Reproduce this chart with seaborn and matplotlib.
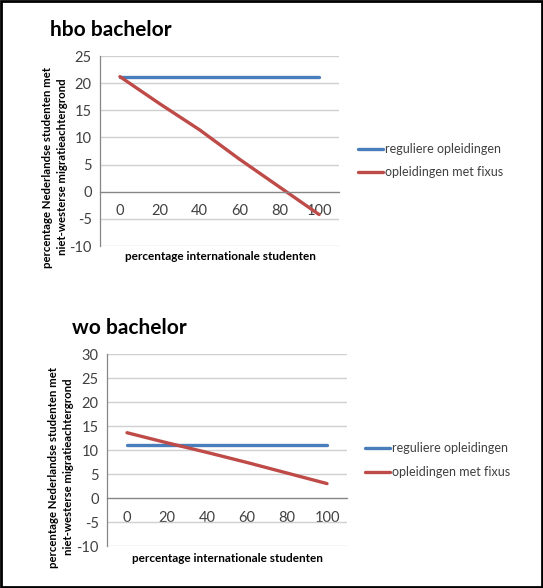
import matplotlib
matplotlib.use("Agg")
import matplotlib.pyplot as plt
import seaborn as sns
import pandas as pd
from matplotlib.patches import Rectangle

# ---- data ----
x_cats = [0, 20, 40, 60, 80, 100]
hbo_regulier = [21.2, 21.2, 21.2, 21.2, 21.2, 21.2]
hbo_fixus = [21.2, 16.2, 11.4, 6.0, 0.9, -4.2]
wo_regulier = [11.0, 11.0, 11.0, 11.0, 11.0, 11.0]
wo_fixus = [13.6, 11.5, 9.5, 7.4, 5.2, 3.0]
series_names = ["reguliere opleidingen", "opleidingen met fixus"]
titles = ["hbo bachelor", "wo bachelor"]
ylabel = "percentage Nederlandse studenten met\nniet-westerse migratieachtergrond"
xlabel = "percentage internationale studenten"

sns.set_theme(style="white")
plt.rcParams['font.family'] = ['Lato', 'DejaVu Sans']

W, H = 543, 588
fig = plt.figure(figsize=(W / 100, H / 100), dpi=100)
fig.patch.set_facecolor("white")

palette = {series_names[0]: "#4a7ebb", series_names[1]: "#be4b48"}


def make_df(reg, fix):
    rows = []
    for name, vals in zip(series_names, [reg, fix]):
        for xv, yv in zip(x_cats, vals):
            rows.append({"x": xv, "y": yv, "serie": name})
    return pd.DataFrame(rows)


def px_axes(l, t, r, b):
    return [l / W, 1 - b / H, (r - l) / W, (b - t) / H]


configs = [
    dict(df=make_df(hbo_regulier, hbo_fixus), rect=(100, 56, 339, 246), ylim=(-10, 25),
         yticks=list(range(-10, 26, 5)), title=titles[0], title_xy=(50, 30),
         ylab_x=(48, 62), ylab_y=167, xlab_xy=(220, 257), leg_y=(149, 172), leg_x=358),
    dict(df=make_df(wo_regulier, wo_fixus), rect=(107, 354, 347, 546), ylim=(-10, 30),
         yticks=list(range(-10, 31, 5)), title=titles[1], title_xy=(72, 328),
         ylab_x=(54, 69), ylab_y=467, xlab_xy=(227, 558), leg_y=(448, 472), leg_x=365),
]

for cfg in configs:
    ax = fig.add_axes(px_axes(*cfg["rect"]))
    sns.lineplot(data=cfg["df"], x="x", y="y", hue="serie", palette=palette,
                 linewidth=2.4, ax=ax, legend=False)
    ax.set_xlim(-10, 110)
    ax.set_ylim(*cfg["ylim"])
    ax.set_yticks(cfg["yticks"])
    ax.set_yticklabels([str(v) for v in cfg["yticks"]])
    ax.set_xticks(x_cats)
    ax.set_xticklabels([str(v) for v in x_cats])
    ax.set_xticks([-10, 10, 30, 50, 70, 90, 110], minor=True)
    ax.tick_params(axis="x", which="major", length=0, pad=9, labelsize=10.5, labelcolor="#404040")
    ax.tick_params(axis="x", which="minor", length=4, width=0.9, color="#868686", direction="out")
    ax.tick_params(axis="y", which="major", length=3, width=0.9, color="#868686", direction="out",
                   labelsize=10.5, labelcolor="#404040", pad=3)
    ax.yaxis.grid(True, color="#d0d0d0", linewidth=1)
    ax.xaxis.grid(False)
    ax.set_axisbelow(True)
    for s in ["top", "right"]:
        ax.spines[s].set_visible(False)
    ax.spines["bottom"].set_position(("data", 0))
    ax.spines["bottom"].set_color("#868686")
    ax.spines["left"].set_color("#868686")
    ax.spines["bottom"].set_linewidth(0.9)
    ax.spines["left"].set_linewidth(0.9)
    ax.set_xlabel("")
    ax.set_ylabel("")

    tx, ty = cfg["title_xy"]
    fig.text(tx / W, 1 - ty / H, cfg["title"], fontsize=15, fontweight="bold",
             ha="left", va="center", color="black")
    lines = ylabel.split("\n")
    for xx, txt in zip(cfg["ylab_x"], lines):
        fig.text(xx / W, 1 - cfg["ylab_y"] / H, txt, rotation=90, fontsize=8.2,
                 fontweight="bold", ha="center", va="center", color="black")
    lx, ly = cfg["xlab_xy"]
    fig.text(lx / W, 1 - ly / H, xlabel, fontsize=8.5, fontweight="bold",
             ha="center", va="center", color="black")
    for yy, name in zip(cfg["leg_y"], series_names):
        fig.add_artist(plt.Line2D([cfg["leg_x"] / W, (cfg["leg_x"] + 25) / W],
                                  [1 - yy / H, 1 - yy / H], color=palette[name],
                                  linewidth=2.4, transform=fig.transFigure))
        fig.text((cfg["leg_x"] + 27) / W, 1 - yy / H, name, fontsize=9,
                 ha="left", va="center", color="#404040")

fig.add_artist(Rectangle((0.002, 0.002), 0.996, 0.996, transform=fig.transFigure,
                         fill=False, edgecolor="black", linewidth=2))

fig.savefig("out.png", dpi=100, facecolor="white")
